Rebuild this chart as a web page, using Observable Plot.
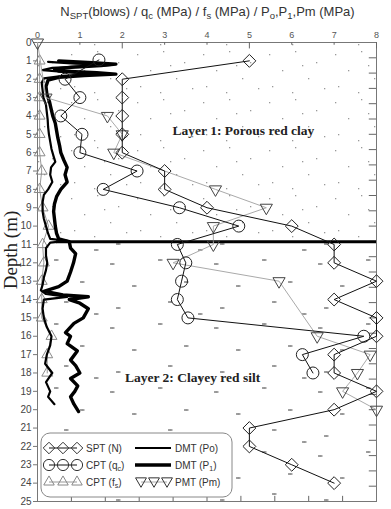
<!DOCTYPE html>
<html><head><meta charset="utf-8">
<script src="https://cdn.jsdelivr.net/npm/d3@7"></script>
<script src="https://cdn.jsdelivr.net/npm/@observablehq/plot@0.6"></script>
<style>
body{margin:0;background:#fff;}
#wrap{position:relative;width:391px;height:509px;overflow:hidden;font-family:"Liberation Sans",Arial,sans-serif;}
#wrap svg{position:absolute;left:0;top:0;}
#title{position:absolute;left:12px;width:391px;top:4px;text-align:center;font-size:13px;color:#333;white-space:nowrap;z-index:2;}
#title sub{font-size:9.5px;vertical-align:baseline;position:relative;top:3px;}
</style></head><body>
<div id="wrap"><div id="title">N<sub>SPT</sub>(blows) / q<sub>c</sub> (MPa) / f<sub>s</sub> (MPa) / P<sub>o</sub>,P<sub>1</sub>,Pm (MPa)</div></div>
<script>
// ---- data ----
const sptDepth = [1,2,3,4,5,6,7,8,9,10,11,12,13,14,15,16,17,18,19,20,21,22,23,24];
const sptN     = [5,2,2,2,2,2,3,3,4,6,7,7,8,7,8,8,7,7,8,7,5,5,6,7];

const qcDepth = [0.95,2,3,4,5,6,7,8,9,10,11,12,13,14,15,16,17,18];
const qcVal   = [1.45,0.65,1.0,0.55,1.05,1.0,2.35,1.55,3.35,4.75,3.3,3.5,3.4,3.3,3.55,7.7,6.25,6.5];

const fsDepth = [1,2,3,4,5,6,7,8,9,10,11,12,13,14,15,16,17,18];
const fsVal   = [0.05,0.05,0.05,0.05,0.05,0.05,0.1,0.05,0.12,0.26,0.12,0.15,0.1,0.1,0.1,0.33,0.23,0.23];

const pmtDepth = [0,3,4,5,6,8,9,10,11,12,13,16,17,18,19,20];
const pmtVal   = [0,0.2,1.65,2.0,1.8,4.2,5.4,4.15,4.15,3.2,5.7,6.6,7.85,7.55,7.2,8.0];

const poDepth = [1.05,1.15,1.22,1.3,1.38,1.5,1.62,1.72,1.82,1.95,2.2,2.6,3.0,3.4,3.8,4.2,4.6,5.0,5.4,5.8,6.2,6.5,6.8,7.2,7.6,8.0,8.3,8.7,9.2,9.6,10.0,10.4,10.7,10.8,10.9,11.2,11.6,12.0,12.4,12.8,13.2,13.5,13.7,13.85,14.0,14.5,15.0,15.5,16.0,16.5,17.0,17.5,18.0,18.5,19.0,19.3,19.7];
const poVal   = [0.25,0.9,1.75,1.1,0.35,0.12,0.7,1.35,0.6,0.15,0.1,0.12,0.14,0.2,0.22,0.24,0.25,0.27,0.3,0.33,0.38,0.42,0.32,0.3,0.35,0.25,0.15,0.12,0.12,0.15,0.2,0.25,0.3,0.7,0.3,0.2,0.2,0.23,0.2,0.15,0.12,0.08,0.2,0.7,0.15,0.12,0.15,0.22,0.33,0.3,0.22,0.18,0.35,0.2,0.3,0.25,0.4];

const p1Depth = [1.0,1.1,1.18,1.26,1.35,1.45,1.55,1.65,1.72,1.8,1.9,2.05,2.4,2.8,3.2,3.6,4.0,4.4,4.8,5.2,5.6,6.0,6.4,6.8,7.2,7.6,8.0,8.4,8.8,9.2,9.6,10.0,10.4,10.7,10.85,11.2,11.5,12.0,12.5,13.0,13.3,13.55,13.75,13.85,14.0,14.2,14.5,15.0,15.3,15.8,16.0,16.4,16.8,17.3,17.6,18.0,18.3,18.7,19.0,19.3,19.7,20.1];
const p1Val   = [0.5,1.3,1.85,1.5,0.8,0.4,0.5,1.4,1.85,1.1,0.5,0.25,0.2,0.22,0.28,0.32,0.36,0.42,0.45,0.48,0.52,0.55,0.62,0.7,0.65,0.7,0.55,0.45,0.4,0.38,0.4,0.42,0.45,0.5,0.75,0.78,0.9,0.85,0.78,0.7,0.5,0.15,0.6,1.2,0.75,1.0,1.2,1.08,0.86,0.66,0.78,0.7,0.94,0.78,0.9,1.0,0.78,0.95,0.88,0.78,0.86,0.97];

const layerDepth = 10.85;
const layerLineStart = 0.45;
const layerNames = ["Layer 1: Porous red clay", "Layer 2: Clayey red silt"];
const layerLabelX = [4.86, 3.66];
const layerLabelDepth = [4.8, 18.25];

const xTicks = [0,1,2,3,4,5,6,7,8];
const xLongTicks = [2,5,8];
const yTicks = d3.range(0, 26);
const bottomTicks = d3.range(1, 10).map(k => k * 0.8);
const rightTicks = d3.range(1, 30).map(k => k * 25 / 30);

// ---- helpers ----
const idx = a => a.map((_, i) => i);
const triDown = {draw(ctx, size){const s=Math.sqrt(size)*0.6824,t=s/2,u=s*Math.sqrt(3)/2;ctx.moveTo(0,s);ctx.lineTo(u,-t);ctx.lineTo(-u,-t);ctx.closePath();}};

const chart = Plot.plot({
  width: 391, height: 509,
  marginTop: 42, marginLeft: 37, marginRight: 15, marginBottom: 8,
  style: {fontFamily: '"Liberation Sans", Arial, sans-serif', background: "white"},
  x: {domain: [0, 8]},
  y: {domain: [0, 25], reverse: true},
  marks: [
    Plot.rect([0], {x1: 0, x2: 8, y1: 0, y2: layerDepth, fill: "url(#pat1)"}),
    Plot.rect([0], {x1: 0, x2: 8, y1: layerDepth, y2: 25, fill: "url(#pat2)"}),
    Plot.frame({stroke: "#777", strokeWidth: 1}),
    Plot.axisX(xTicks, {anchor: "top", tickSize: 0, tickPadding: 5, fontSize: 9, fill: "#555", label: null}),
    Plot.axisY(yTicks, {anchor: "left", tickSize: 4, tickPadding: 2, fontSize: 10, fill: "#444", stroke: "#777", label: null}),
    Plot.ruleX(xTicks.filter(d => !xLongTicks.includes(d)), {x: d => d, y1: 0, y2: 0.15, stroke: "#666"}),
    Plot.ruleX(xLongTicks, {x: d => d, y1: 0, y2: 0.35, stroke: "#666"}),
    Plot.ruleX(bottomTicks, {x: d => d, y1: 25, y2: 24.72, stroke: "#666"}),
    Plot.ruleY(rightTicks, {y: d => d, x1: 8, x2: 7.83, stroke: "#666"}),
    Plot.ruleY([layerDepth], {x1: layerLineStart, x2: 8, stroke: "#000", strokeWidth: 3}),
    // CPT fs
    Plot.line(idx(fsDepth), {x: i => fsVal[i], y: i => fsDepth[i], stroke: "#999", strokeWidth: 1}),
    Plot.dot(idx(fsDepth), {x: i => fsVal[i], y: i => fsDepth[i], symbol: "triangle2", r: 5.2, stroke: "#888", fill: "none", strokeWidth: 1}),
    // DMT
    Plot.line(idx(poDepth), {x: i => poVal[i], y: i => poDepth[i], stroke: "#000", strokeWidth: 2.2, strokeLinejoin: "round"}),
    Plot.line(idx(p1Depth), {x: i => p1Val[i], y: i => p1Depth[i], stroke: "#000", strokeWidth: 3.4, strokeLinejoin: "round"}),
    // PMT
    Plot.line(idx(pmtDepth), {x: i => pmtVal[i], y: i => pmtDepth[i], stroke: "#aaa", strokeWidth: 1}),
    Plot.dot(idx(pmtDepth), {x: i => pmtVal[i], y: i => pmtDepth[i], symbol: triDown, r: 5.8, stroke: "#444", fill: "none", strokeWidth: 1}),
    // CPT qc
    Plot.line(idx(qcDepth), {x: i => qcVal[i], y: i => qcDepth[i], stroke: "#111", strokeWidth: 1}),
    Plot.dot(idx(qcDepth), {x: i => qcVal[i], y: i => qcDepth[i], symbol: "circle", r: 6, stroke: "#222", fill: "none", strokeWidth: 1}),
    // SPT
    Plot.line(idx(sptDepth), {x: i => sptN[i], y: i => sptDepth[i], stroke: "#111", strokeWidth: 1}),
    Plot.dot(idx(sptDepth), {x: i => sptN[i], y: i => sptDepth[i], symbol: "diamond2", r: 5.8, stroke: "#222", fill: "none", strokeWidth: 1}),
    // layer labels
    Plot.text(idx(layerNames), {x: i => layerLabelX[i], y: i => layerLabelDepth[i], text: i => layerNames[i],
      fontFamily: '"Liberation Serif", "Times New Roman", serif', fontWeight: "bold", fontSize: 13.5, fill: "#222"})
  ]
});
document.getElementById("wrap").appendChild(chart);

// ---- patterns, y title and legend ----
const svg = d3.select(chart);
const defs = svg.insert("defs", ":first-child");
const p1 = defs.append("pattern").attr("id", "pat1").attr("patternUnits", "userSpaceOnUse").attr("width", 66).attr("height", 48);
[[5,6],[31,3],[52,14],[18,22],[44,30],[8,38],[60,40],[28,44],[38,17]].forEach(([x,y]) =>
  p1.append("rect").attr("x", x).attr("y", y).attr("width", 1.3).attr("height", 1.3).attr("fill", "#999"));
const p2 = defs.append("pattern").attr("id", "pat2").attr("patternUnits", "userSpaceOnUse").attr("width", 104).attr("height", 64);
[[6,8],[54,4],[80,26],[28,30],[64,46],[12,52],[94,58]].forEach(([x,y]) => {
  p2.append("line").attr("x1", x).attr("x2", x + 4.5).attr("y1", y).attr("y2", y).attr("stroke", "#444").attr("stroke-width", 1);
  p2.append("line").attr("x1", x + 2.2).attr("x2", x + 2.2).attr("y1", y - 0.7).attr("y2", y + 0.7).attr("stroke", "#777").attr("stroke-width", 0.6);
});

svg.append("text").attr("transform", "translate(17,250) rotate(-90)").attr("text-anchor", "middle")
  .attr("font-family", '"Liberation Serif", "Times New Roman", serif').attr("font-size", 19).attr("fill", "#222").text("Depth (m)");

const lg = svg.append("g").attr("font-family", '"Liberation Sans", Arial, sans-serif').attr("font-size", 10).attr("fill", "#333").attr("text-anchor", "start");
lg.append("rect").attr("x", 41).attr("y", 433).attr("width", 191).attr("height", 64).attr("rx", 9).attr("fill", "white").attr("stroke", "#888");
const rowsY = [448, 465, 482];
const mk = [49, 63, 77];
function sym(g, type, x, y) {
  const s = type === "diamond" ? d3.symbol(d3.symbolDiamond2, Math.PI*5.2*5.2)
          : type === "circle" ? d3.symbol(d3.symbolCircle, Math.PI*5.6*5.6)
          : type === "up" ? d3.symbol(d3.symbolTriangle2, Math.PI*5*5)
          : d3.symbol(triDown, Math.PI*5.2*5.2);
  g.append("path").attr("d", s()).attr("transform", `translate(${x},${y})`).attr("fill", "none")
   .attr("stroke", type === "up" ? "#888" : "#333").attr("stroke-width", 1);
}
[["diamond","#111"],["circle","#111"],["up","#999"]].forEach(([t,c], r) => {
  lg.append("line").attr("x1", mk[0]).attr("x2", mk[2]).attr("y1", rowsY[r]).attr("y2", rowsY[r]).attr("stroke", c);
  mk.forEach(x => sym(lg, t, x, rowsY[r]));
});
const tx = 86;
const t1 = lg.append("text").attr("x", tx).attr("y", rowsY[0] + 3.5); t1.text("SPT (N)");
const t2 = lg.append("text").attr("x", tx).attr("y", rowsY[1] + 3.5); t2.append("tspan").text("CPT (q"); t2.append("tspan").attr("font-size", 7).attr("dy", 2).text("c"); t2.append("tspan").attr("dy", -2).text(")");
const t3 = lg.append("text").attr("x", tx).attr("y", rowsY[2] + 3.5); t3.append("tspan").text("CPT (f"); t3.append("tspan").attr("font-size", 7).attr("dy", 2).text("s"); t3.append("tspan").attr("dy", -2).text(")");
lg.append("line").attr("x1", 135).attr("x2", 171).attr("y1", rowsY[0]).attr("y2", rowsY[0]).attr("stroke", "#000").attr("stroke-width", 2.2);
lg.append("line").attr("x1", 135).attr("x2", 171).attr("y1", rowsY[1]).attr("y2", rowsY[1]).attr("stroke", "#000").attr("stroke-width", 3.4);
lg.append("line").attr("x1", 141).attr("x2", 167).attr("y1", rowsY[2]).attr("y2", rowsY[2]).attr("stroke", "#aaa");
[141, 154, 167].forEach(x => sym(lg, "down", x, rowsY[2] - 1));
const tx2 = 175;
lg.append("text").attr("x", tx2).attr("y", rowsY[0] + 3.5).text("DMT (Po)");
const t5 = lg.append("text").attr("x", tx2).attr("y", rowsY[1] + 3.5); t5.append("tspan").text("DMT (P"); t5.append("tspan").attr("font-size", 7).attr("dy", 2).text("1"); t5.append("tspan").attr("dy", -2).text(")");
lg.append("text").attr("x", tx2).attr("y", rowsY[2] + 3.5).text("PMT (Pm)");
</script>
</body></html>
